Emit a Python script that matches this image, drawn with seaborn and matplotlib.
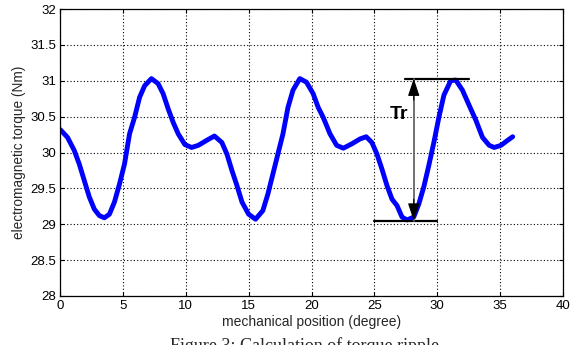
import matplotlib
matplotlib.use("Agg")
import matplotlib.pyplot as plt
import seaborn as sns
import pandas as pd

position = [0.0, 0.07, 0.6, 1.13, 1.53, 1.93, 2.33, 2.73, 3.13, 3.53, 3.93, 4.33, 4.73, 5.13,
            5.53, 5.93, 6.33, 6.73, 7.27, 7.8, 8.2, 8.6, 9.0, 9.4, 9.93, 10.47, 11.0, 11.67,
            12.28, 12.87, 13.27, 13.67, 14.07, 14.47, 15.0, 15.55, 16.13, 16.53, 16.93, 17.33,
            17.73, 18.13, 18.53, 19.07, 19.6, 20.13, 20.53, 20.93, 21.47, 22.0, 22.53, 23.2,
            23.87, 24.35, 24.8, 25.2, 25.6, 26.0, 26.4, 26.8, 27.2, 27.6, 28.13, 28.53, 28.93,
            29.33, 29.73, 30.13, 30.53, 31.07, 31.47, 32.0, 32.53, 33.07, 33.6, 34.13, 34.53,
            35.07, 35.6, 36.0]
torque = [30.32, 30.31, 30.21, 30.03, 29.84, 29.61, 29.38, 29.21, 29.12, 29.09, 29.14, 29.31,
          29.56, 29.84, 30.26, 30.49, 30.77, 30.93, 31.03, 30.96, 30.82, 30.61, 30.42, 30.26,
          30.11, 30.07, 30.10, 30.17, 30.23, 30.14, 29.98, 29.75, 29.54, 29.31, 29.14, 29.07,
          29.19, 29.42, 29.70, 29.98, 30.26, 30.63, 30.87, 31.03, 30.98, 30.82, 30.63, 30.49,
          30.26, 30.10, 30.06, 30.12, 30.19, 30.22, 30.14, 29.98, 29.77, 29.54, 29.35, 29.26,
          29.10, 29.06, 29.10, 29.28, 29.52, 29.82, 30.14, 30.49, 30.80, 31.0, 31.01, 30.87,
          30.66, 30.45, 30.21, 30.10, 30.07, 30.10, 30.17, 30.22]

x_ticks = [0, 5, 10, 15, 20, 25, 30, 35, 40]
y_ticks = [28, 28.5, 29, 29.5, 30, 30.5, 31, 31.5, 32]
y_tick_labels = ["28", "28.5", "29", "29.5", "30", "30.5", "31", "31.5", "32"]

ripple_max = 31.03
ripple_min = 29.05
ripple_x = 28.13
max_span = [27.47, 32.53]
min_span = [25.0, 29.97]

df = pd.DataFrame({"position": position, "torque": torque})

sns.set_theme(style="white")
plt.rcParams["font.family"] = ["Liberation Sans", "DejaVu Sans"]

fig = plt.figure(figsize=(5.7, 3.45), dpi=100)
ax = fig.add_axes([60/570, 1-296/345, (563-60)/570, (296-9)/345])

sns.lineplot(data=df, x="position", y="torque", ax=ax, color="#0000ff", linewidth=3.5,
             estimator=None, sort=False, solid_joinstyle="round", solid_capstyle="round")

ax.set_xlim(0, 40)
ax.set_ylim(28, 32)
ax.set_xticks(x_ticks)
ax.set_xticklabels([str(t) for t in x_ticks])
ax.set_yticks(y_ticks)
ax.set_yticklabels(y_tick_labels)
ax.grid(True, color="black", linestyle=(0, (1, 2)), linewidth=0.8)
ax.tick_params(direction="in", length=3, width=0.8, labelsize=9.5, colors="black",
               top=True, right=True, bottom=True, left=True, pad=3)
for s in ax.spines.values():
    s.set_color("black")
    s.set_linewidth(0.9)
ax.set_xlabel("mechanical position (degree)", fontsize=10, labelpad=2)
ax.set_ylabel("electromagnetic torque (Nm)", fontsize=9.8, labelpad=3)

# ripple annotation
ax.plot(max_span, [ripple_max, ripple_max], color="black", linewidth=1.6)
ax.plot(min_span, [ripple_min, ripple_min], color="black", linewidth=1.6)
ax.plot([ripple_x, ripple_x], [ripple_min, ripple_max], color="#666666", linewidth=1.3)
head = "-|>,head_length=0.6,head_width=0.2"
ax.annotate("", xy=(ripple_x, ripple_max), xytext=(ripple_x, ripple_max - 0.3),
            arrowprops=dict(arrowstyle=head, color="black", lw=0.8,
                            mutation_scale=18, shrinkA=0, shrinkB=0))
ax.annotate("", xy=(ripple_x, ripple_min), xytext=(ripple_x, ripple_min + 0.3),
            arrowprops=dict(arrowstyle=head, color="black", lw=0.8,
                            mutation_scale=18, shrinkA=0, shrinkB=0))
ax.text(26.95, 30.53, "Tr", fontsize=14, fontweight="bold", ha="center", va="center",
        color="black")

fig.text(305/570, 1-337/345, "Figure 3: Calculation of torque ripple",
         family=["Liberation Serif", "DejaVu Serif"], fontsize=13, ha="center", va="top")

fig.savefig("out.png", dpi=100)
